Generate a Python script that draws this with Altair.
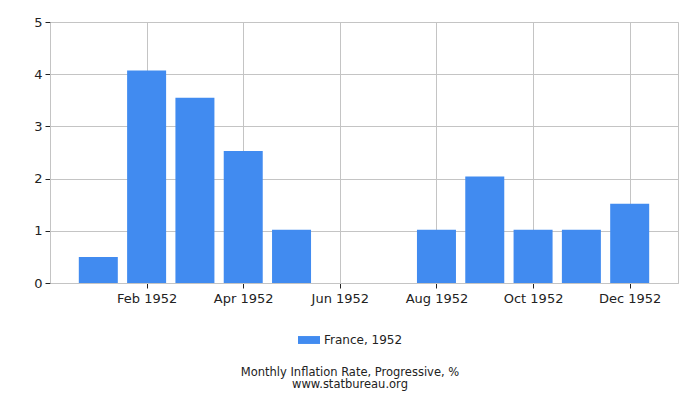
import altair as alt
import pandas as pd

months = ["Jan 1952", "Feb 1952", "Mar 1952", "Apr 1952", "May 1952", "Jun 1952",
          "Jul 1952", "Aug 1952", "Sep 1952", "Oct 1952", "Nov 1952", "Dec 1952"]
values = [0.5, 4.07, 3.55, 2.53, 1.02, 0.0, 0.0, 1.02, 2.04, 1.02, 1.02, 1.52]
tick_months = [2, 4, 6, 8, 10, 12]
series_name = "France, 1952"

df = pd.DataFrame({
    "idx": list(range(1, 13)),
    "month": months,
    "value": values,
    "series": [series_name] * 12,
})

label_list = [""] + months + [""]
label_expr = "[" + ",".join("'" + s + "'" for s in label_list) + "][datum.value]"

font = "DejaVu Sans"

chart = alt.Chart(df).mark_bar(size=39, color="#418BF0").encode(
    x=alt.X("idx:Q",
            scale=alt.Scale(domain=[0, 13], nice=False, zero=False, padding=0),
            axis=alt.Axis(values=tick_months, labelExpr=label_expr, title=None,
                          grid=True, gridColor="#c4c4c4", domainColor="#c4c4c4",
                          tickColor="#222", tickSize=5, labelFontSize=13,
                          labelColor="#222", labelFont=font, labelPadding=4)),
    y=alt.Y("value:Q",
            scale=alt.Scale(domain=[0, 5], nice=False),
            axis=alt.Axis(values=[0, 1, 2, 3, 4, 5], title=None, grid=True,
                          gridColor="#c4c4c4", domainColor="#c4c4c4",
                          tickColor="#222", tickSize=5, labelFontSize=13,
                          labelColor="#222", labelFont=font, labelPadding=3)),
    color=alt.Color("series:N",
                    scale=alt.Scale(range=["#418BF0"]),
                    legend=alt.Legend(title=None, orient="none", legendX=248, legendY=307,
                                      symbolType="M-1,-0.36L1,-0.36L1,0.36L-1,0.36Z",
                                      symbolSize=484, symbolStrokeWidth=0,
                                      labelFontSize=12, labelFont=font, labelColor="#222",
                                      labelOffset=4)),
).properties(
    width=628,
    height=261,
    title=alt.TitleParams(
        text="Monthly Inflation Rate, Progressive, %",
        subtitle="www.statbureau.org",
        orient="bottom", anchor="middle", frame="group", offset=21, dx=-14,
        fontSize=11.5, subtitleFontSize=11.5, font=font, subtitleFont=font,
        fontWeight="normal", color="#222", subtitleColor="#222", subtitlePadding=0,
        lineHeight=11, subtitleLineHeight=11,
    ),
    autosize=alt.AutoSizeParams(type="none"),
    padding={"left": 42, "top": 14, "right": 14, "bottom": 110},
).configure_view(stroke="#c4c4c4")

chart.save("out.html", embed_options={"renderer": "svg", "actions": False})
